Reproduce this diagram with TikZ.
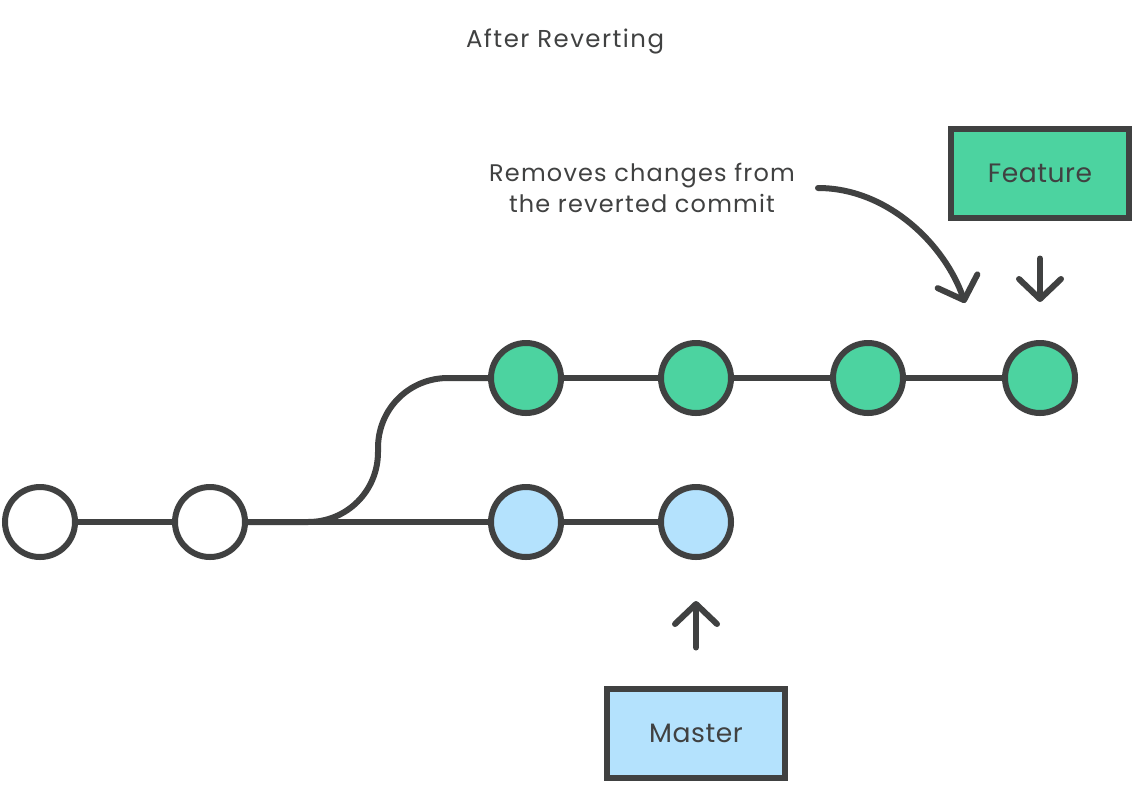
\documentclass[tikz,border=0pt]{standalone}
\usepackage{fontspec}
\setmainfont{Poppins}
\newfontfamily\notefont[LetterSpace=5]{Poppins}
\newfontfamily\titlefont[LetterSpace=6]{Poppins}
\newfontfamily\boxfont[LetterSpace=2]{Poppins}
\usetikzlibrary{arrows.meta}
\definecolor{ink}{HTML}{404141}
\definecolor{featgreen}{HTML}{4CD3A0}
\definecolor{masterblue}{HTML}{B4E2FD}

\begin{document}
\begin{tikzpicture}[x=0.5pt,y=-0.5pt,
  commit/.style={circle,draw=ink,line width=3pt,minimum size=35pt,inner sep=0pt},
  branchbox/.style={draw=ink,line width=3pt,minimum width=89pt,minimum height=44.5pt,
    font=\boxfont\fontsize{13.3}{16}\selectfont,text=ink},
  edge/.style={draw=ink,line width=3pt},
  pointer/.style={draw=ink,line width=3pt,line cap=round,
    -{Straight Barb[length=10pt,width=21pt,line cap=round,round]}},
  notetext/.style={text=ink,font=\notefont\fontsize{12}{15.5}\selectfont,align=center}]
\useasboundingbox (0,0) rectangle (1140,788);

\node[notetext,font=\titlefont\fontsize{12.2}{15}\selectfont] (title) at (565,41) {After Reverting};

% commits
\node[commit,fill=white] (c1) at (40,522) {};
\node[commit,fill=white] (c2) at (210,522) {};
\node[commit,fill=masterblue] (b1) at (526,522) {};
\node[commit,fill=masterblue] (b2) at (696,522) {};
\node[commit,fill=featgreen] (g1) at (526,378) {};
\node[commit,fill=featgreen] (g2) at (696,378) {};
\node[commit,fill=featgreen] (g3) at (868,378) {};
\node[commit,fill=featgreen] (g4) at (1040,378) {};

% branch labels
\node[branchbox,fill=featgreen] (feature) at (1040,173) {Feature};
\node[branchbox,fill=masterblue] (master) at (696,733) {Master};

\draw[edge] (c1) -- (c2);
\draw[edge] (c2) -- (b1);
\draw[edge] (b1) -- (b2);
\draw[edge] (g1) -- (g2);
\draw[edge] (g2) -- (g3);
\draw[edge] (g3) -- (g4);
\draw[edge] (c2.east) -- (308,522) .. controls (347,522) and (378,491) .. (378,452)
  -- (378,448) .. controls (378,409) and (409,378) .. (448,378) -- (g1);

\draw[pointer,shorten <=19pt,shorten >=19pt] (feature) -- (g4);
\draw[pointer,shorten <=19pt,shorten >=20.5pt] (master) -- (b2);

% note
\node[notetext] (note) at (642,188) {Removes changes from\\the reverted commit};
\coordinate (notefrom) at (818,188);
\coordinate (noteto) at (965,303);
\draw[pointer] (notefrom) .. controls (888,188) and (945,245) .. (noteto);
\end{tikzpicture}
\end{document}
